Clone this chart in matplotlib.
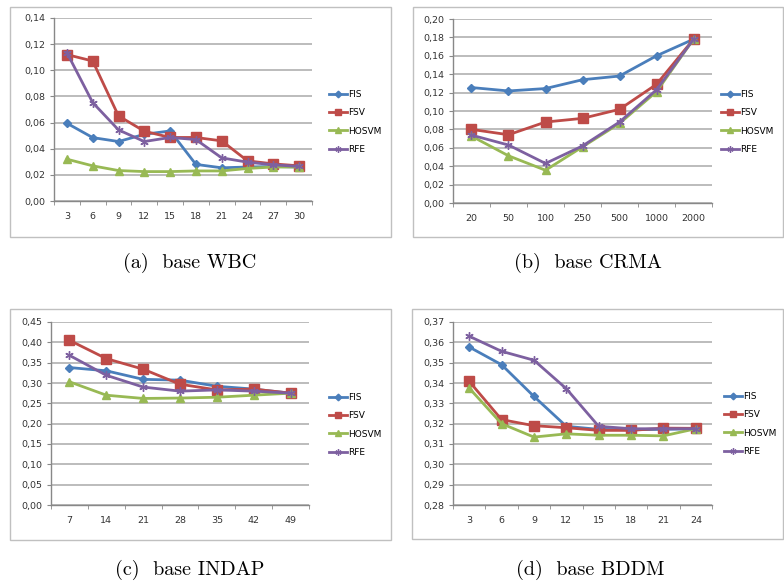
import numpy as np
import matplotlib.pyplot as plt
from matplotlib.patches import Rectangle

# ---- data ----
wbc_x = ["3", "6", "9", "12", "15", "18", "21", "24", "27", "30"]
wbc_fis = [0.0595, 0.0485, 0.0455, 0.051, 0.0536, 0.028, 0.0254, 0.026, 0.0264, 0.026]
wbc_fsv = [0.112, 0.1071, 0.0651, 0.0534, 0.0486, 0.0486, 0.046, 0.0307, 0.0284, 0.0269]
wbc_hosvm = [0.032, 0.0269, 0.0233, 0.0225, 0.0225, 0.023, 0.023, 0.0249, 0.026, 0.026]
wbc_rfe = [0.1135, 0.0753, 0.0544, 0.0455, 0.0486, 0.047, 0.033, 0.0297, 0.0277, 0.0264]

crma_x = ["20", "50", "100", "250", "500", "1000", "2000"]
crma_fis = [0.1255, 0.1218, 0.1244, 0.134, 0.138, 0.160, 0.178]
crma_fsv = [0.080, 0.0742, 0.088, 0.092, 0.1018, 0.129, 0.178]
crma_hosvm = [0.0727, 0.0513, 0.0356, 0.061, 0.0865, 0.121, 0.178]
crma_rfe = [0.0738, 0.063, 0.043, 0.062, 0.088, 0.123, 0.178]

indap_x = ["7", "14", "21", "28", "35", "42", "49"]
indap_fis = [0.338, 0.330, 0.309, 0.307, 0.292, 0.285, 0.275]
indap_fsv = [0.405, 0.360, 0.334, 0.297, 0.283, 0.285, 0.275]
indap_hosvm = [0.303, 0.270, 0.262, 0.263, 0.265, 0.270, 0.275]
indap_rfe = [0.368, 0.319, 0.290, 0.280, 0.283, 0.280, 0.275]

bddm_x = ["3", "6", "9", "12", "15", "18", "21", "24"]
bddm_fis = [0.3577, 0.349, 0.3334, 0.3187, 0.3172, 0.317, 0.3172, 0.3175]
bddm_fsv = [0.3408, 0.322, 0.319, 0.318, 0.3167, 0.3167, 0.3178, 0.3177]
bddm_hosvm = [0.3375, 0.320, 0.3134, 0.315, 0.3143, 0.3143, 0.314, 0.3175]
bddm_rfe = [0.363, 0.3556, 0.3512, 0.3372, 0.3187, 0.3175, 0.3175, 0.3175]

series_names = ["FIS", "FSV", "HOSVM", "RFE"]
colors = ["#4a7ebb", "#be4b48", "#98b954", "#7d60a0"]
markers = ["D", "s", "^", (6, 2, 0)]
msizes = [4.5, 6.5, 6, 6]

W, H = 784, 584
fig = plt.figure(figsize=(W / 100, H / 100), dpi=100)


def box(l, t, r, b):
    return [l / W, 1 - b / H, (r - l) / W, (b - t) / H]


def panel(frame, area, legend_xy, cats, data, ylim, ystep, caption, cap_xy):
    fl, ft, fr, fb = frame
    fig.patches.append(Rectangle((fl / W, 1 - fb / H), (fr - fl) / W, (fb - ft) / H,
                                 transform=fig.transFigure, fill=False,
                                 edgecolor="#c0c0c0", linewidth=1.0))
    ax = fig.add_axes(box(*area))
    x = np.arange(len(cats))
    for vals, name, c, m, ms in zip(data, series_names, colors, markers, msizes):
        ax.plot(x, vals, color=c, lw=2.0, marker=m, markersize=ms,
                markeredgewidth=1.0, label=name, clip_on=False)
    ax.set_xlim(-0.5, len(cats) - 0.5)
    ax.set_ylim(*ylim)
    yt = np.arange(ylim[0], ylim[1] + ystep / 2, ystep)
    ax.set_yticks(yt)
    ax.set_yticklabels([f"{v:.2f}".replace(".", ",") for v in yt])
    ax.set_xticks(x)
    ax.set_xticklabels(cats)
    ax.set_xticks(np.arange(-0.5, len(cats)), minor=True)
    ax.tick_params(axis="x", which="major", length=0, pad=8)
    ax.tick_params(axis="x", which="minor", length=3, color="#888888", direction="out")
    ax.tick_params(axis="y", length=3, color="#888888", direction="out", pad=3)
    ax.tick_params(labelsize=6.8, labelcolor="#333333")
    ax.grid(axis="y", color="#b0b0b0", lw=1.2)
    ax.set_axisbelow(True)
    for s in ["top", "right"]:
        ax.spines[s].set_visible(False)
    for s in ["left", "bottom"]:
        ax.spines[s].set_color("#888888")
        ax.spines[s].set_linewidth(1.0)
    ax.legend(loc="center left", bbox_to_anchor=(legend_xy[0] / W, 1 - legend_xy[1] / H),
              bbox_transform=fig.transFigure, frameon=False, fontsize=6.5,
              handlelength=2.0, handletextpad=0.2, labelspacing=1.02, borderpad=0,
              markerscale=0.75)
    fig.text(cap_xy[0] / W, 1 - cap_xy[1] / H, caption, family="cmr10",
             fontsize=14.5, ha="center", va="center")


panel((10, 7, 391, 237), (54, 18, 312, 201), (324, 122), wbc_x,
      [wbc_fis, wbc_fsv, wbc_hosvm, wbc_rfe], (0, 0.14), 0.02,
      "(a)  base WBC", (190, 263))
panel((413, 7, 783, 237), (453, 19, 712, 203), (716, 122), crma_x,
      [crma_fis, crma_fsv, crma_hosvm, crma_rfe], (0, 0.20), 0.02,
      "(b)  base CRMA", (588, 263))
panel((10, 309, 391, 540), (51, 322, 309, 505), (324, 425), indap_x,
      [indap_fis, indap_fsv, indap_hosvm, indap_rfe], (0, 0.45), 0.05,
      "(c)  base INDAP", (190, 570))
panel((412, 309, 783, 539), (453, 322, 712, 505), (719, 424), bddm_x,
      [bddm_fis, bddm_fsv, bddm_hosvm, bddm_rfe], (0.28, 0.37), 0.01,
      "(d)  base BDDM", (590, 570))

fig.savefig("out.png", dpi=100)
